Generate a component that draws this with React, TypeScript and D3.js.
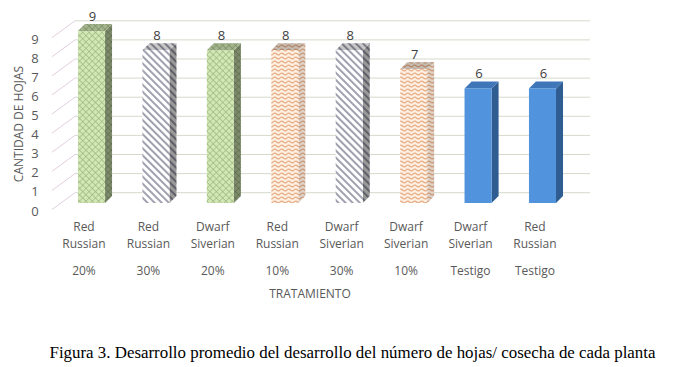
import React from "react";
import * as d3 from "d3";

const varieties = [
  "Red Russian",
  "Red Russian",
  "Dwarf Siverian",
  "Red Russian",
  "Dwarf Siverian",
  "Dwarf Siverian",
  "Dwarf Siverian",
  "Red Russian",
];
const treatments = ["20%", "30%", "20%", "10%", "30%", "10%", "Testigo", "Testigo"];
const leaves = [9, 8, 8, 8, 8, 7, 6, 6];
const yTicks = [0, 1, 2, 3, 4, 5, 6, 7, 8, 9];
const fills = ["green", "stripe", "green", "wave", "stripe", "wave", "blue", "blue"];

const W = 684;
const H = 367;
const font = "'Open Sans', 'DejaVu Sans', sans-serif";
const textColor = "#595959";

// 3d offsets
const wallDx = 23;
const wallDy = -17.8;
const barShift = -7.5;
const barDepth = 7;

const App: React.FC = () => {
  const keys = varieties.map((_, i) => String(i));

  const x = d3
    .scaleBand<string>()
    .domain(keys)
    .range([59.3, 574.7])
    .paddingInner(0.58)
    .paddingOuter(0.29);

  // y used for tick labels (front edge of floor)
  const y = d3.scaleLinear().domain([0, 9]).range([210.5, 38.6]);

  const bw = x.bandwidth();
  const wallLeft = 52 + wallDx;
  const wallRight = 590;

  const faceFill = (k: string) =>
    k === "blue" ? "#5194dd" : `url(#pat-${k})`;
  const sideFill = (k: string) =>
    k === "blue" ? "#2f5d91" : `url(#pat-${k})`;
  const topFill = (k: string) =>
    k === "blue" ? "#3e76b8" : `url(#pat-${k})`;

  return (
    <svg
      width={W}
      height={H}
      style={{ position: "absolute", left: 0, top: 0, background: "#fff" }}
    >
      <defs>
        <pattern id="pat-green" width="4.5" height="4.5" patternUnits="userSpaceOnUse" patternTransform="rotate(45)">
          <rect width="4.5" height="4.5" fill="#d3e7b6" />
          <path d="M0,0 H4.5 M0,0 V4.5" stroke="#98b47a" strokeWidth="1.2" />
        </pattern>
        <pattern id="pat-stripe" width="5" height="5" patternUnits="userSpaceOnUse" patternTransform="rotate(-45)">
          <rect width="5" height="5" fill="#ffffff" />
          <rect width="1.9" height="5" fill="#9b9bab" />
        </pattern>
        <pattern id="pat-wave" width="7" height="4" patternUnits="userSpaceOnUse">
          <rect width="7" height="4" fill="#fdf1e4" />
          <path d="M0,2 Q1.75,0.2 3.5,2 T7,2" fill="none" stroke="#e9ad86" strokeWidth="1.3" />
        </pattern>
      </defs>

      {/* back wall gridlines */}
      <g>
        {yTicks.map((t) => (
          <g key={t}>
            <line
              x1={wallLeft}
              x2={wallRight}
              y1={y(t) + wallDy}
              y2={y(t) + wallDy}
              stroke="#d6dacb"
              strokeWidth={1}
            />
            <line
              x1={52}
              y1={y(t) - 1}
              x2={wallLeft}
              y2={y(t) + wallDy}
              stroke="#e2cfe0"
              strokeWidth={1}
            />
          </g>
        ))}
      </g>

      {/* y tick labels */}
      <g fontFamily={font} fontSize={13} fill={textColor} textAnchor="middle">
        {yTicks.map((t) => (
          <text key={t} x={35} y={y(t)} dominantBaseline="central">
            {t}
          </text>
        ))}
      </g>

      {/* bars */}
      <g>
        {leaves.map((v, i) => {
          const x0 = x(keys[i]) as number;
          const yb = y(0) + barShift;
          const yt = y(v) + barShift;
          const k = fills[i];
          const side = `M${x0 + bw},${yt} L${x0 + bw + barDepth},${yt - barDepth} L${x0 + bw + barDepth},${yb - barDepth} L${x0 + bw},${yb} Z`;
          const top = `M${x0},${yt} L${x0 + barDepth},${yt - barDepth} L${x0 + bw + barDepth},${yt - barDepth} L${x0 + bw},${yt} Z`;
          return (
            <g key={i}>
              <path d={side} fill={sideFill(k)} />
              {k !== "blue" && <path d={side} fill="#000" opacity={k === "wave" ? 0.12 : 0.4} />}
              <path d={top} fill={topFill(k)} />
              {k !== "blue" && <path d={top} fill="#000" opacity={0.22} />}
              <rect x={x0} y={yt} width={bw} height={yb - yt} fill={faceFill(k)} />
              <text
                x={x0 + bw / 2 + 1}
                y={yt - 10}
                fontFamily={font}
                fontSize={13}
                fill="#404040"
                textAnchor="middle"
              >
                {v}
              </text>
            </g>
          );
        })}
      </g>

      {/* category labels */}
      <g fontFamily={font} fontSize={12} fill={textColor} textAnchor="middle">
        {varieties.map((name, i) => {
          const cx = (x(keys[i]) as number) + 6;
          const [l1, l2] = name.split(" ");
          return (
            <g key={i}>
              <text x={cx} y={231}>{l1}</text>
              <text x={cx} y={248}>{l2}</text>
              <text x={cx} y={275}>{treatments[i]}</text>
            </g>
          );
        })}
      </g>

      <text x={310} y={298} fontFamily={font} fontSize={12} fill={textColor} textAnchor="middle">
        TRATAMIENTO
      </text>

      <text
        transform="translate(23,124) rotate(-90)"
        fontFamily={font}
        fontSize={12}
        fill={textColor}
        textAnchor="middle"
      >
        CANTIDAD DE HOJAS
      </text>

      <text
        x={352.5}
        y={358}
        fontFamily="'Liberation Serif', 'Times New Roman', serif"
        fontSize={16.9}
        fill="#000"
        textAnchor="middle"
      >
        Figura 3. Desarrollo promedio del desarrollo del número de hojas/ cosecha de cada planta
      </text>
    </svg>
  );
};

export default App;
